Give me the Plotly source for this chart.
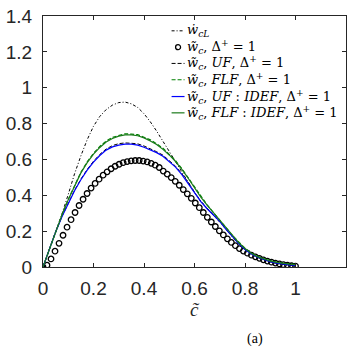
import numpy as np
import plotly.graph_objects as go

# ---- data ----
c_line = [round(i * 0.025, 3) for i in range(41)]

w_cL = [0, 0.095, 0.19, 0.295, 0.405, 0.52, 0.62, 0.71, 0.785, 0.84,
        0.878, 0.903, 0.917, 0.92, 0.91, 0.89, 0.855, 0.81, 0.758, 0.703,
        0.647, 0.588, 0.53, 0.472, 0.418, 0.368, 0.325, 0.288, 0.25, 0.208,
        0.168, 0.132, 0.1, 0.075, 0.055, 0.04, 0.029, 0.021, 0.015, 0.01, 0.007]

w_UF = [0, 0.1, 0.196, 0.282, 0.357, 0.428, 0.49, 0.544, 0.59, 0.628,
        0.658, 0.677, 0.688, 0.692, 0.69, 0.687, 0.675, 0.66, 0.643, 0.624,
        0.594, 0.562, 0.52, 0.472, 0.416, 0.366, 0.326, 0.29, 0.255, 0.21,
        0.168, 0.13, 0.098, 0.073, 0.054, 0.04, 0.03, 0.022, 0.016, 0.012, 0.009]

w_FLF = [0, 0.1, 0.2, 0.291, 0.377, 0.457, 0.528, 0.586, 0.634, 0.672,
         0.702, 0.723, 0.735, 0.743, 0.741, 0.738, 0.724, 0.709, 0.687, 0.662,
         0.628, 0.593, 0.548, 0.498, 0.442, 0.391, 0.346, 0.303, 0.263, 0.219,
         0.176, 0.137, 0.104, 0.078, 0.059, 0.045, 0.035, 0.027, 0.021, 0.017, 0.014]

w_UF_IDEF = [0, 0.1, 0.195, 0.28, 0.355, 0.425, 0.487, 0.54, 0.585, 0.622,
             0.652, 0.67, 0.68, 0.685, 0.685, 0.68, 0.668, 0.653, 0.638, 0.618,
             0.59, 0.557, 0.515, 0.466, 0.412, 0.365, 0.325, 0.29, 0.255, 0.21,
             0.168, 0.13, 0.098, 0.073, 0.054, 0.04, 0.03, 0.022, 0.016, 0.012, 0.009]

w_FLF_IDEF = [0, 0.1, 0.2, 0.29, 0.375, 0.455, 0.525, 0.582, 0.63, 0.667,
              0.697, 0.717, 0.73, 0.737, 0.737, 0.732, 0.72, 0.703, 0.683, 0.656,
              0.625, 0.588, 0.545, 0.495, 0.44, 0.39, 0.345, 0.302, 0.262, 0.218,
              0.175, 0.136, 0.103, 0.077, 0.058, 0.044, 0.034, 0.026, 0.02, 0.016, 0.013]

w_c = [0, 0.01, 0.045, 0.088, 0.132, 0.177, 0.222, 0.264, 0.304, 0.343,
       0.378, 0.41, 0.44, 0.466, 0.49, 0.512, 0.531, 0.548, 0.562, 0.573,
       0.582, 0.588, 0.592, 0.594, 0.594, 0.591, 0.586, 0.578, 0.568, 0.555,
       0.535, 0.518, 0.499, 0.478, 0.456, 0.432, 0.408, 0.383, 0.357, 0.331,
       0.304, 0.277, 0.251, 0.226, 0.202, 0.179, 0.157, 0.137, 0.119, 0.103,
       0.089, 0.077, 0.066, 0.057, 0.048, 0.04, 0.033, 0.027, 0.022, 0.017,
       0.013, 0.01, 0.007, 0.005]
c_pts = list(np.linspace(0, 1, len(w_c)))

x_ticks = [0, 0.2, 0.4, 0.6, 0.8, 1]
x_tick_text = ["0", "0.2", "0.4", "0.6", "0.8", "1"]
y_ticks = [0, 0.2, 0.4, 0.6, 0.8, 1, 1.2, 1.4]
y_tick_text = ["0", "0.2", "0.4", "0.6", "0.8", "1", "1.2", "1.4"]

legend_labels = [
    "<i>ẇ</i><sub><i>cL</i></sub>",
    "<i>w̃</i><sub><i>c</i></sub>, Δ<sup>+</sup> = 1",
    "<i>w̃</i><sub><i>c</i></sub>, <i>UF</i>, Δ<sup>+</sup> = 1",
    "<i>w̃</i><sub><i>c</i></sub>, <i>FLF</i>, Δ<sup>+</sup> = 1",
    "<i>w̃</i><sub><i>c</i></sub>, <i>UF</i> : <i>IDEF</i>, Δ<sup>+</sup> = 1",
    "<i>w̃</i><sub><i>c</i></sub>, <i>FLF</i> : <i>IDEF</i>, Δ<sup>+</sup> = 1",
]

AX = "#262626"
SERIF = "DejaVu Serif, Liberation Serif, serif"

# plot-area geometry (pixels) used to place the hand-drawn legend
L, R, T, B = 43, 347, 13, 267
def px(x):
    return (x - L) / (R - L)
def py(y):
    return (B - y) / (B - T)

styles = [
    dict(kind="line", color="black", width=1, dash="3px,2px,1px,2px"),
    dict(kind="marker"),
    dict(kind="line", color="black", width=1, dash="4px,2px"),
    dict(kind="line", color="#008000", width=1.2, dash="4px,2px"),
    dict(kind="line", color="#0000ff", width=1.2, dash="solid"),
    dict(kind="line", color="#1b7a1b", width=1.2, dash="solid"),
]

fig = go.Figure()
fig.add_trace(go.Scatter(x=c_pts, y=w_c, mode="markers",
                         marker=dict(symbol="circle-open", size=5.5, color="black", line=dict(width=1.3)),
                         name=legend_labels[1]))
series = [(w_cL, 0), (w_UF, 2), (w_FLF, 3), (w_UF_IDEF, 4), (w_FLF_IDEF, 5)]
for vals, k in series:
    s = styles[k]
    fig.add_trace(go.Scatter(x=c_line, y=vals, mode="lines",
                             line=dict(color=s["color"], width=s["width"], dash=s["dash"]),
                             name=legend_labels[k]))

axis_common = dict(showline=True, linecolor=AX, linewidth=1, mirror="ticks", ticks="inside",
                   ticklen=4, tickwidth=1, tickcolor=AX, showgrid=False, zeroline=False,
                   tickfont=dict(family="Liberation Sans, Arial, sans-serif", size=19, color=AX))

fig.update_xaxes(range=[0, 1.2], tickvals=x_ticks, ticktext=x_tick_text,
                 ticklabelstandoff=4, **axis_common)
fig.update_yaxes(range=[0, 1.4], tickvals=y_ticks, ticktext=y_tick_text, ticklabelstandoff=6, **axis_common)

# hand-drawn legend
legend_y = [28, 44.5, 61, 77.5, 94.5, 111]
shapes = []
annotations = []
for i, (lab, yy) in enumerate(zip(legend_labels, legend_y)):
    s = styles[i]
    if s["kind"] == "line":
        shapes.append(dict(type="line", xref="paper", yref="paper",
                           x0=px(172), x1=px(185), y0=py(yy), y1=py(yy),
                           line=dict(color=s["color"], width=s["width"], dash=s["dash"])))
    else:
        shapes.append(dict(type="circle", xref="paper", yref="paper",
                           x0=px(176), x1=px(181), y0=py(yy + 2.5), y1=py(yy - 2.5),
                           line=dict(color="black", width=1.3)))
    annotations.append(dict(text=lab, x=px(185), y=py(yy), xref="paper", yref="paper",
                            xanchor="left", yanchor="middle", showarrow=False,
                            font=dict(family=SERIF, size=13, color="black")))

annotations.append(dict(text="<i>c̃</i>", x=px(195), y=py(310), xref="paper", yref="paper",
                        xanchor="center", yanchor="middle", showarrow=False,
                        font=dict(family="Liberation Serif, serif", size=19, color=AX)))
annotations.append(dict(text="(a)", x=px(256), y=py(340), xref="paper", yref="paper",
                        xanchor="center", yanchor="middle", showarrow=False,
                        font=dict(family="Liberation Serif, serif", size=14, color="black")))

fig.update_layout(
    width=353, height=353,
    margin=dict(l=L, r=353 - R, t=T, b=353 - B),
    paper_bgcolor="white", plot_bgcolor="white",
    showlegend=False,
    shapes=shapes,
    annotations=annotations,
)

fig.write_html("out.html")
